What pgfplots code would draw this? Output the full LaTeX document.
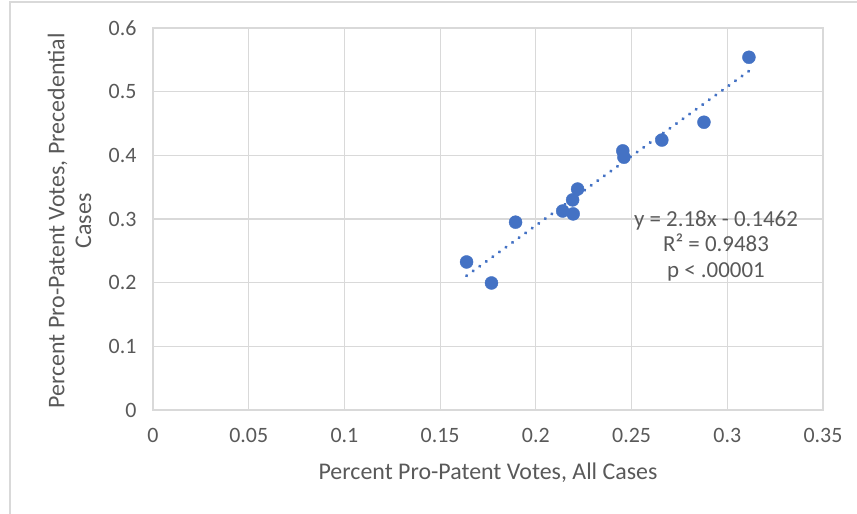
\documentclass[border=0pt]{standalone}
\usepackage{pgfplots}
\pgfplotsset{compat=1.18}
\usepackage{fontspec}
\setmainfont{Carlito}
\definecolor{ptblue}{HTML}{4472C4}
\definecolor{txtgray}{HTML}{595959}
\definecolor{gridgray}{HTML}{D9D9D9}
\begin{document}
\begin{tikzpicture}[x=1bp,y=1bp]
\path[use as bounding box] (0,0) rectangle (857,514);
% chart area frame
\draw[gridgray, line width=1.2bp] (10,-2) -- (10,512) -- (860,512);
\begin{axis}[
  at={(153bp,104bp)}, anchor=south west,
  scale only axis, width=670bp, height=382bp,
  xmin=0, xmax=0.35, ymin=0, ymax=0.6,
  xtick={0,0.05,0.1,0.15,0.2,0.25,0.3,0.35},
  xticklabels={0,0.05,0.1,0.15,0.2,0.25,0.3,0.35},
  ytick={0,0.1,0.2,0.3,0.4,0.5,0.6},
  yticklabels={0,0.1,0.2,0.3,0.4,0.5,0.6},
  major tick length=0pt,
  grid=major,
  major grid style={gridgray, line width=1.2bp},
  axis line style={gridgray, line width=1.2bp},
  tick label style={font=\fontsize{22}{26}\selectfont, text=txtgray},
  xticklabel style={yshift=-15bp},
  yticklabel style={xshift=-13bp},
  /pgf/number format/assume math mode=true,
  xlabel={Percent Pro-Patent Votes, All Cases},
  ylabel={Percent Pro-Patent Votes, Precedential\\Cases},
  label style={font=\fontsize{24}{27}\selectfont, text=txtgray},
  ylabel style={align=center, at={(axis description cs:-0.1246,0.495)}, anchor=center},
  xlabel style={at={(axis description cs:0.5,-0.165)}, anchor=center},
  clip=false,
]
\addplot[only marks, mark=*, mark size=6.5bp, mark options={fill=ptblue, draw=ptblue}]
  coordinates {
  (0.3113,0.554) (0.2878,0.452) (0.2658,0.424) (0.2454,0.407)
  (0.2460,0.397) (0.2218,0.347) (0.2192,0.330) (0.2140,0.3125)
  (0.2195,0.308) (0.1894,0.295) (0.1638,0.2325) (0.1768,0.1995)
  };
% linear trend line, y = 2.18x - 0.1462
\addplot[ptblue, line width=3.4bp, dash pattern=on 0.1bp off 8bp, line cap=round]
  coordinates {(0.1638,0.2109) (0.3113,0.5324)};
\node[text=txtgray, font=\fontsize{23}{25.5}\selectfont, align=center, anchor=center]
  at (axis cs:0.2941,0.2576) {y = 2.18x - 0.1462\\R² = 0.9483\\p < .00001};
\end{axis}
\end{tikzpicture}
\end{document}
